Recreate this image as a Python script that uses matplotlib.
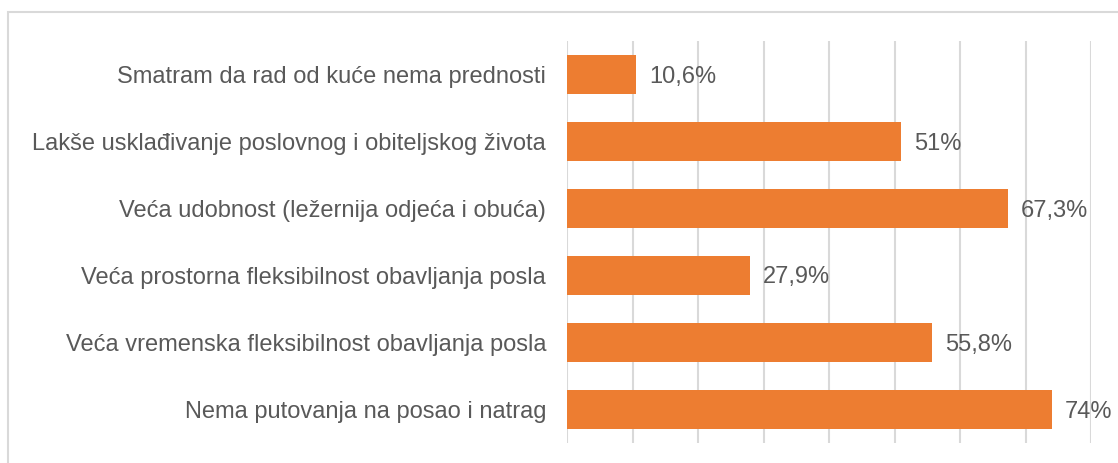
import matplotlib.pyplot as plt
from matplotlib.patches import Rectangle

# categories from top to bottom, as in the chart
categories = [
    'Smatram da rad od kuće nema prednosti',
    'Lakše usklađivanje poslovnog i obiteljskog života',
    'Veća udobnost (ležernija odjeća i obuća)',
    'Veća prostorna fleksibilnost obavljanja posla',
    'Veća vremenska fleksibilnost obavljanja posla',
    'Nema putovanja na posao i natrag',
]
values = [10.6, 51, 67.3, 27.9, 55.8, 74]
value_labels = ['10,6%', '51%', '67,3%', '27,9%', '55,8%', '74%']

plt.rcParams['font.family'] = ['Liberation Sans', 'DejaVu Sans']
text_color = '#595959'
bar_color = '#ED7D31'
grid_color = '#D9D9D9'

fig = plt.figure(figsize=(11.18, 4.63), dpi=100)
ax = fig.add_axes([567 / 1118, 20 / 463, 524 / 1118, 402 / 463])

y = list(range(len(categories)))
ax.barh(y, values, height=0.57, color=bar_color, zorder=2)
ax.set_ylim(len(categories) - 0.5, -0.5)
ax.set_xlim(0, 80)
ax.set_xticks(range(0, 81, 10))
ax.set_xticklabels([])
ax.set_yticks(y)
ax.set_yticklabels(categories, fontsize=17, color=text_color)
ax.tick_params(axis='both', length=0)
ax.tick_params(axis='y', pad=15)
ax.grid(axis='x', color=grid_color, linewidth=1.5, zorder=0)
for s in ax.spines.values():
    s.set_visible(False)

for yi, v, lab in zip(y, values, value_labels):
    ax.annotate(lab, (v, yi), xytext=(13, -2), textcoords='offset pixels',
                va='center', ha='left', fontsize=17, color=text_color)

# outer chart border (cropped at right and bottom)
fig.patches.append(Rectangle((8 / 1118, -0.1), 1.2, 1.1 - 12 / 463,
                             transform=fig.transFigure, fill=False,
                             edgecolor=grid_color, linewidth=1.5))

fig.savefig('out.png', dpi=100)
